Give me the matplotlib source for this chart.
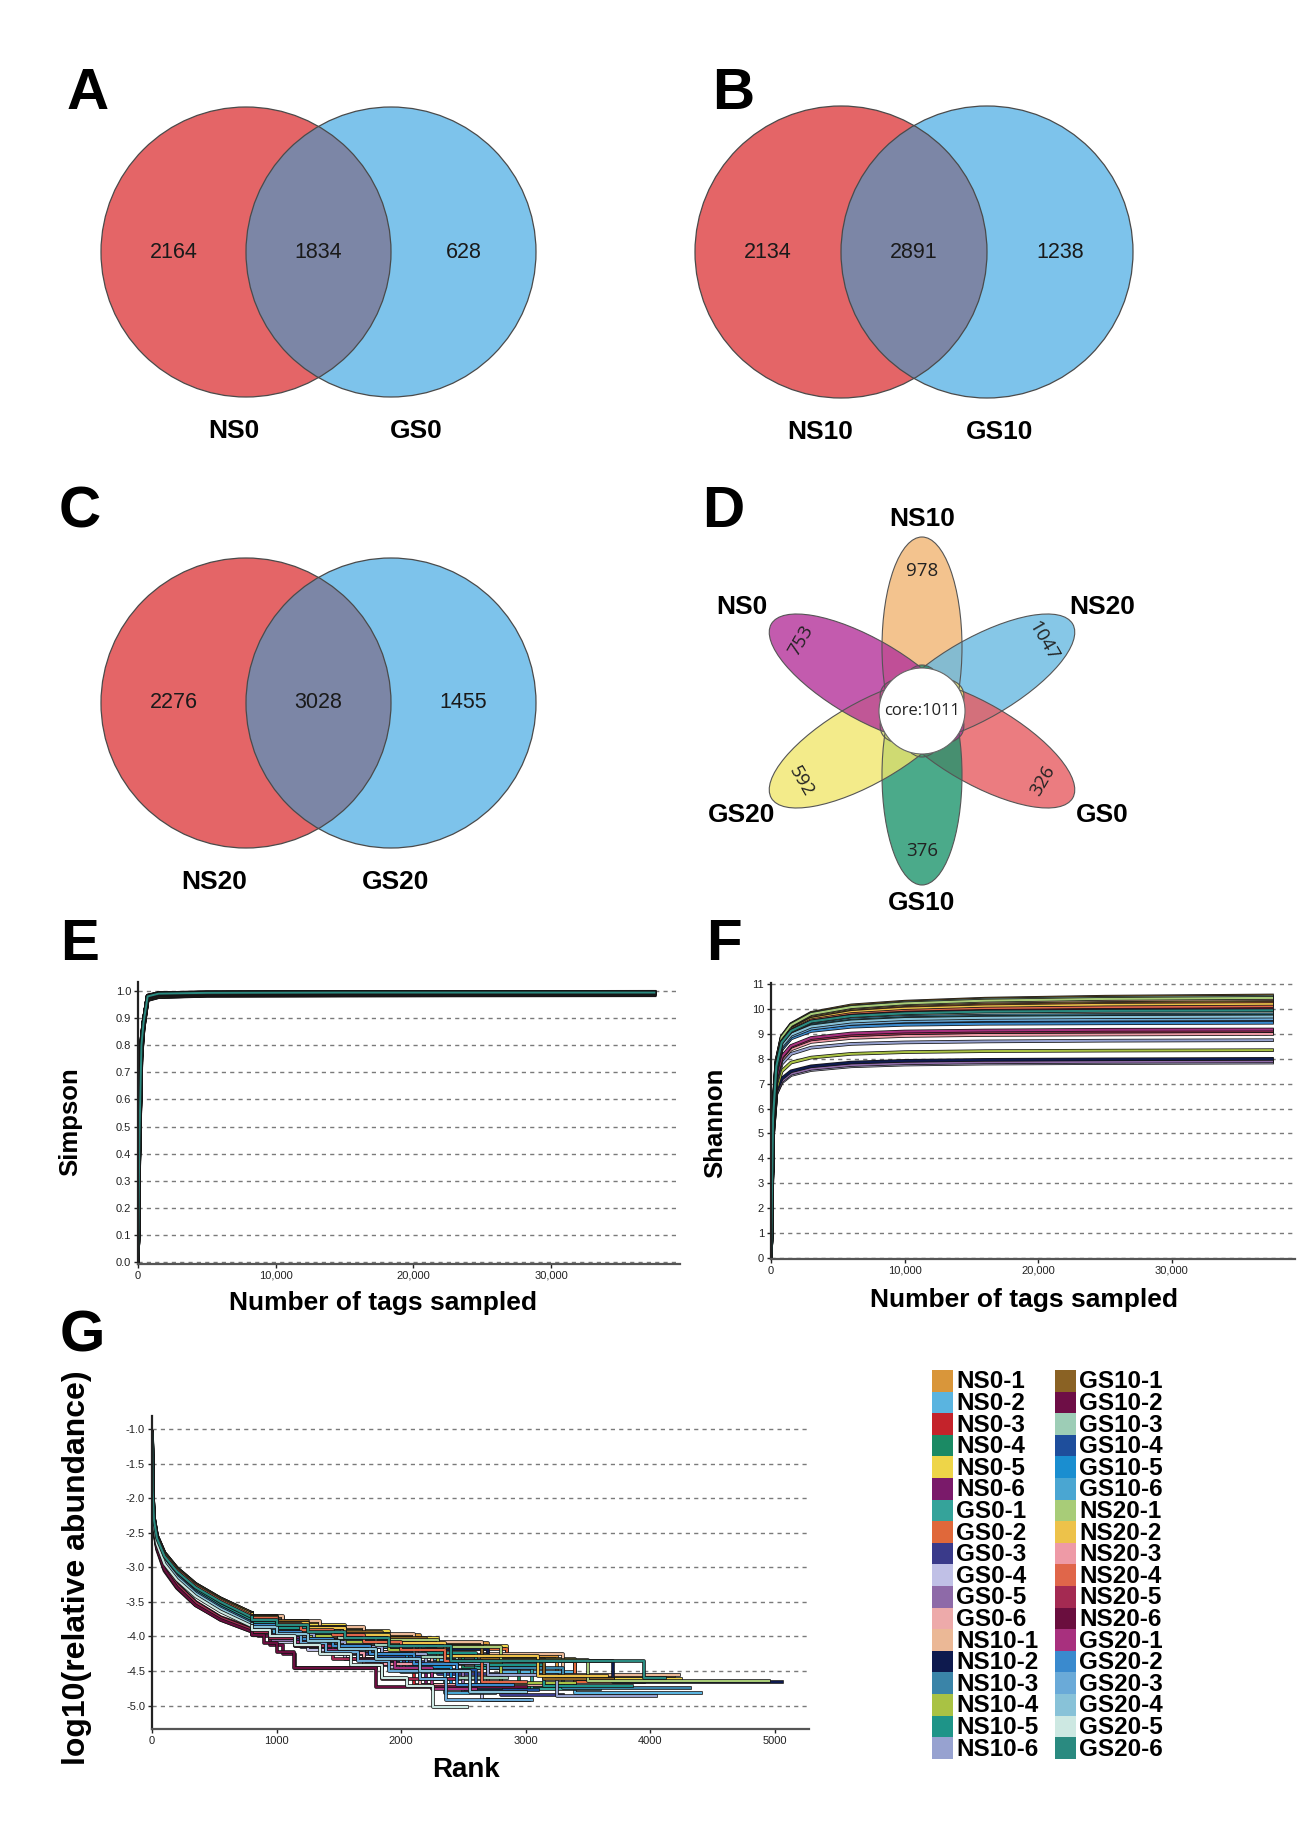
import numpy as np
import matplotlib
matplotlib.use("Agg")
import matplotlib.pyplot as plt
import matplotlib.patheffects as pe
from matplotlib.patches import Circle, Ellipse, Rectangle
from matplotlib.ticker import FuncFormatter, MultipleLocator

plt.rcParams['axes.unicode_minus'] = False

W, H = 1301, 1825

# ---------------- data ----------------
# A-C: two-set Venn diagrams (left only, shared, right only)
venn_labels = [("NS0", "GS0"), ("NS10", "GS10"), ("NS20", "GS20")]
venn_counts = [(2164, 1834, 628), (2134, 2891, 1238), (2276, 3028, 1455)]

# D: flower diagram
flower_groups = ["NS10", "NS20", "GS0", "GS10", "GS20", "NS0"]
flower_unique = [978, 1047, 326, 376, 592, 753]
flower_core = 1011
flower_colors = ["#F0B572", "#68BAE2", "#E75B60", "#1E956D", "#F1E76D", "#B4329A"]

# samples (legend order)
samples = ["NS0-1", "NS0-2", "NS0-3", "NS0-4", "NS0-5", "NS0-6",
           "GS0-1", "GS0-2", "GS0-3", "GS0-4", "GS0-5", "GS0-6",
           "NS10-1", "NS10-2", "NS10-3", "NS10-4", "NS10-5", "NS10-6",
           "GS10-1", "GS10-2", "GS10-3", "GS10-4", "GS10-5", "GS10-6",
           "NS20-1", "NS20-2", "NS20-3", "NS20-4", "NS20-5", "NS20-6",
           "GS20-1", "GS20-2", "GS20-3", "GS20-4", "GS20-5", "GS20-6"]
sample_colors = ["#D9963A", "#5AB4E0", "#C4232B", "#1B8A64", "#EED548", "#7A1A6A",
                 "#35A39A", "#E0683A", "#3A3A8A", "#C0C0E6", "#8E6AA8", "#EDAAAA",
                 "#EBB896", "#0E1A4E", "#3A84A8", "#A9C244", "#1E9488", "#97A2D0",
                 "#8A6224", "#6E0E46", "#9DCDB6", "#1E4E9C", "#1A8ED0", "#4AA6D2",
                 "#A8CC78", "#EDC24A", "#EE9AA6", "#E0664A", "#A42A52", "#6A0E3E",
                 "#A8307E", "#3A8ACE", "#6AAAD8", "#88C2D8", "#CDE8E2", "#2A8A80"]

# E: Simpson rarefaction
depths_simpson = [0, 100, 250, 400, 700, 1500, 5000, 15000, 37500]
simpson = [
    [0, 0.46, 0.81, 0.885, 0.982, 0.991, 0.994, 0.995, 0.995],
    [0, 0.45, 0.80, 0.880, 0.978, 0.988, 0.991, 0.992, 0.992],
    [0, 0.43, 0.78, 0.870, 0.974, 0.984, 0.988, 0.989, 0.989],
    [0, 0.45, 0.80, 0.880, 0.979, 0.988, 0.991, 0.992, 0.993],
    [0, 0.46, 0.81, 0.884, 0.981, 0.990, 0.993, 0.994, 0.995],
    [0, 0.43, 0.78, 0.868, 0.973, 0.983, 0.987, 0.988, 0.988],
    [0, 0.45, 0.80, 0.881, 0.979, 0.989, 0.992, 0.993, 0.993],
    [0, 0.46, 0.81, 0.884, 0.981, 0.990, 0.993, 0.994, 0.994],
    [0, 0.41, 0.76, 0.860, 0.968, 0.978, 0.983, 0.984, 0.985],
    [0, 0.40, 0.75, 0.858, 0.966, 0.977, 0.982, 0.983, 0.984],
    [0, 0.41, 0.76, 0.859, 0.967, 0.978, 0.983, 0.984, 0.985],
    [0, 0.43, 0.78, 0.869, 0.974, 0.984, 0.988, 0.989, 0.989],
    [0, 0.46, 0.82, 0.886, 0.982, 0.991, 0.994, 0.995, 0.996],
    [0, 0.41, 0.76, 0.861, 0.969, 0.979, 0.984, 0.985, 0.986],
    [0, 0.44, 0.79, 0.878, 0.977, 0.987, 0.990, 0.991, 0.991],
    [0, 0.42, 0.77, 0.864, 0.970, 0.980, 0.985, 0.986, 0.987],
    [0, 0.45, 0.80, 0.882, 0.980, 0.989, 0.992, 0.993, 0.993],
    [0, 0.42, 0.77, 0.866, 0.972, 0.982, 0.986, 0.987, 0.988],
    [0, 0.47, 0.82, 0.888, 0.983, 0.992, 0.995, 0.996, 0.997],
    [0, 0.46, 0.81, 0.883, 0.981, 0.990, 0.993, 0.994, 0.994],
    [0, 0.47, 0.82, 0.887, 0.983, 0.992, 0.995, 0.996, 0.996],
    [0, 0.44, 0.79, 0.879, 0.978, 0.988, 0.991, 0.992, 0.992],
    [0, 0.45, 0.80, 0.880, 0.979, 0.988, 0.991, 0.992, 0.993],
    [0, 0.45, 0.80, 0.882, 0.980, 0.989, 0.992, 0.993, 0.994],
    [0, 0.47, 0.82, 0.886, 0.982, 0.991, 0.994, 0.995, 0.996],
    [0, 0.46, 0.81, 0.884, 0.981, 0.990, 0.993, 0.994, 0.995],
    [0, 0.43, 0.78, 0.868, 0.973, 0.983, 0.987, 0.988, 0.988],
    [0, 0.46, 0.81, 0.883, 0.981, 0.990, 0.993, 0.994, 0.994],
    [0, 0.43, 0.78, 0.869, 0.974, 0.984, 0.988, 0.989, 0.989],
    [0, 0.45, 0.81, 0.882, 0.980, 0.990, 0.993, 0.994, 0.994],
    [0, 0.44, 0.78, 0.871, 0.975, 0.985, 0.989, 0.990, 0.990],
    [0, 0.44, 0.79, 0.878, 0.977, 0.987, 0.990, 0.991, 0.991],
    [0, 0.45, 0.80, 0.880, 0.978, 0.988, 0.991, 0.992, 0.992],
    [0, 0.45, 0.80, 0.881, 0.979, 0.989, 0.992, 0.993, 0.993],
    [0, 0.45, 0.80, 0.882, 0.980, 0.989, 0.992, 0.993, 0.994],
    [0, 0.46, 0.80, 0.882, 0.980, 0.990, 0.993, 0.994, 0.994],
]

# F: Shannon rarefaction
depths = [0, 150, 400, 800, 1500, 3000, 6000, 10000, 16000, 25000, 37500]
shannon = [
    [0, 5.70, 7.80, 8.80, 9.30, 9.72, 10.00, 10.15, 10.25, 10.31, 10.35],
    [0, 5.50, 7.50, 8.45, 8.90, 9.22, 9.40, 9.50, 9.55, 9.58, 9.60],
    [0, 5.30, 7.20, 8.05, 8.50, 8.80, 8.97, 9.05, 9.10, 9.13, 9.15],
    [0, 5.50, 7.60, 8.50, 8.95, 9.30, 9.50, 9.60, 9.65, 9.68, 9.70],
    [0, 5.70, 7.80, 8.75, 9.25, 9.68, 9.95, 10.10, 10.20, 10.26, 10.30],
    [0, 5.30, 7.15, 8.00, 8.42, 8.72, 8.88, 8.96, 9.01, 9.03, 9.05],
    [0, 5.55, 7.60, 8.55, 9.00, 9.35, 9.55, 9.65, 9.70, 9.73, 9.75],
    [0, 5.65, 7.75, 8.72, 9.20, 9.62, 9.90, 10.05, 10.15, 10.21, 10.25],
    [0, 4.95, 6.65, 7.15, 7.45, 7.65, 7.80, 7.87, 7.91, 7.93, 7.95],
    [0, 4.90, 6.60, 7.05, 7.35, 7.55, 7.70, 7.77, 7.81, 7.83, 7.85],
    [0, 4.90, 6.60, 7.10, 7.40, 7.60, 7.75, 7.82, 7.86, 7.88, 7.90],
    [0, 5.30, 7.20, 8.02, 8.46, 8.76, 8.93, 9.01, 9.06, 9.08, 9.10],
    [0, 5.75, 7.85, 8.85, 9.35, 9.77, 10.05, 10.20, 10.30, 10.36, 10.40],
    [0, 5.00, 6.70, 7.20, 7.50, 7.70, 7.85, 7.92, 7.96, 7.98, 8.00],
    [0, 5.40, 7.50, 8.40, 8.85, 9.15, 9.33, 9.41, 9.46, 9.48, 9.50],
    [0, 5.10, 6.80, 7.50, 7.85, 8.05, 8.20, 8.27, 8.31, 8.33, 8.35],
    [0, 5.55, 7.65, 8.60, 9.05, 9.40, 9.60, 9.70, 9.75, 9.78, 9.80],
    [0, 5.20, 7.00, 7.80, 8.20, 8.45, 8.60, 8.66, 8.70, 8.73, 8.75],
    [0, 5.80, 7.90, 8.90, 9.40, 9.85, 10.15, 10.30, 10.42, 10.50, 10.55],
    [0, 5.60, 7.70, 8.70, 9.18, 9.58, 9.85, 9.98, 10.07, 10.12, 10.15],
    [0, 5.80, 7.90, 8.88, 9.38, 9.82, 10.10, 10.26, 10.38, 10.45, 10.50],
    [0, 5.45, 7.50, 8.42, 8.88, 9.20, 9.38, 9.46, 9.51, 9.53, 9.55],
    [0, 5.50, 7.55, 8.48, 8.92, 9.26, 9.46, 9.56, 9.61, 9.63, 9.65],
    [0, 5.60, 7.65, 8.62, 9.08, 9.45, 9.65, 9.75, 9.80, 9.83, 9.85],
    [0, 5.75, 7.85, 8.86, 9.36, 9.80, 10.08, 10.23, 10.34, 10.41, 10.45],
    [0, 5.65, 7.75, 8.70, 9.18, 9.60, 9.88, 10.02, 10.11, 10.17, 10.20],
    [0, 5.25, 7.10, 7.95, 8.38, 8.68, 8.84, 8.92, 8.96, 8.98, 9.00],
    [0, 5.60, 7.70, 8.68, 9.15, 9.55, 9.80, 9.93, 10.02, 10.07, 10.10],
    [0, 5.30, 7.20, 8.03, 8.48, 8.78, 8.95, 9.03, 9.08, 9.10, 9.12],
    [0, 5.60, 7.70, 8.65, 9.12, 9.50, 9.74, 9.86, 9.93, 9.97, 10.00],
    [0, 5.30, 7.25, 8.08, 8.52, 8.84, 9.02, 9.10, 9.14, 9.17, 9.18],
    [0, 5.40, 7.45, 8.38, 8.82, 9.12, 9.29, 9.37, 9.41, 9.43, 9.45],
    [0, 5.50, 7.55, 8.46, 8.90, 9.22, 9.41, 9.51, 9.56, 9.58, 9.60],
    [0, 5.50, 7.60, 8.52, 8.97, 9.30, 9.50, 9.60, 9.65, 9.68, 9.70],
    [0, 5.60, 7.70, 8.65, 9.10, 9.48, 9.70, 9.80, 9.85, 9.88, 9.90],
    [0, 5.60, 7.70, 8.66, 9.12, 9.50, 9.72, 9.83, 9.90, 9.93, 9.95],
]

# G: rank-abundance, smooth head then stepped tail
rank_head = [1, 5, 15, 40, 100, 200, 350, 550, 800]
abund_head = [
    [-1.05, -1.85, -2.28, -2.55, -2.80, -3.02, -3.25, -3.46, -3.68],
    [-1.08, -1.92, -2.33, -2.60, -2.88, -3.10, -3.34, -3.56, -3.78],
    [-1.12, -2.00, -2.40, -2.68, -2.98, -3.24, -3.50, -3.72, -3.88],
    [-1.08, -1.90, -2.32, -2.59, -2.87, -3.09, -3.33, -3.55, -3.76],
    [-1.04, -1.84, -2.27, -2.54, -2.79, -3.01, -3.24, -3.45, -3.66],
    [-1.13, -2.01, -2.41, -2.69, -3.00, -3.26, -3.52, -3.74, -3.90],
    [-1.07, -1.91, -2.33, -2.60, -2.87, -3.09, -3.33, -3.55, -3.76],
    [-1.05, -1.86, -2.29, -2.56, -2.81, -3.03, -3.26, -3.47, -3.68],
    [-1.12, -2.02, -2.42, -2.70, -3.00, -3.26, -3.52, -3.74, -3.91],
    [-1.14, -2.03, -2.43, -2.71, -3.02, -3.28, -3.54, -3.76, -3.93],
    [-1.12, -2.01, -2.41, -2.69, -3.00, -3.26, -3.52, -3.74, -3.92],
    [-1.09, -1.94, -2.35, -2.62, -2.90, -3.13, -3.37, -3.59, -3.80],
    [-1.04, -1.84, -2.27, -2.54, -2.79, -3.01, -3.24, -3.45, -3.66],
    [-1.08, -1.93, -2.34, -2.61, -2.89, -3.11, -3.35, -3.57, -3.78],
    [-1.08, -1.92, -2.33, -2.60, -2.88, -3.10, -3.34, -3.56, -3.78],
    [-1.09, -1.93, -2.34, -2.62, -2.90, -3.12, -3.36, -3.58, -3.80],
    [-1.07, -1.91, -2.32, -2.60, -2.87, -3.09, -3.33, -3.55, -3.76],
    [-1.10, -1.95, -2.36, -2.63, -2.91, -3.14, -3.38, -3.60, -3.82],
    [-1.04, -1.84, -2.27, -2.54, -2.79, -3.01, -3.24, -3.45, -3.66],
    [-1.15, -2.05, -2.45, -2.74, -3.05, -3.30, -3.55, -3.75, -3.90],
    [-1.06, -1.87, -2.30, -2.57, -2.82, -3.05, -3.28, -3.49, -3.70],
    [-1.10, -1.95, -2.36, -2.63, -2.91, -3.14, -3.38, -3.60, -3.82],
    [-1.09, -1.93, -2.34, -2.62, -2.90, -3.12, -3.36, -3.58, -3.80],
    [-1.10, -1.95, -2.36, -2.63, -2.91, -3.14, -3.38, -3.60, -3.82],
    [-1.05, -1.85, -2.28, -2.55, -2.80, -3.02, -3.25, -3.46, -3.68],
    [-1.05, -1.86, -2.29, -2.56, -2.81, -3.03, -3.26, -3.47, -3.68],
    [-1.12, -2.00, -2.40, -2.68, -2.99, -3.25, -3.51, -3.73, -3.90],
    [-1.06, -1.87, -2.30, -2.57, -2.82, -3.04, -3.27, -3.48, -3.70],
    [-1.12, -2.00, -2.40, -2.68, -2.99, -3.25, -3.51, -3.73, -3.90],
    [-1.14, -2.04, -2.44, -2.72, -3.03, -3.29, -3.55, -3.76, -3.93],
    [-1.10, -1.96, -2.37, -2.65, -2.93, -3.16, -3.40, -3.62, -3.83],
    [-1.09, -1.93, -2.34, -2.62, -2.90, -3.12, -3.36, -3.58, -3.80],
    [-1.10, -1.96, -2.37, -2.65, -2.93, -3.16, -3.40, -3.62, -3.83],
    [-1.10, -1.95, -2.36, -2.63, -2.91, -3.14, -3.38, -3.60, -3.82],
    [-1.11, -1.98, -2.39, -2.66, -2.95, -3.18, -3.42, -3.64, -3.85],
    [-1.06, -1.88, -2.31, -2.58, -2.84, -3.06, -3.29, -3.50, -3.72],
]
rank_tail = [
    [800, 1050, 1350, 1700, 2150, 2700, 3250, 4190],
    [800, 1000, 1300, 1550, 1850, 2250, 2800, 3400, 4410],
    [800, 950, 1150, 1400, 1700, 2100, 2700],
    [800, 1000, 1200, 1450, 1750, 2100, 2500, 2950, 3500],
    [800, 1000, 1250, 1550, 1900, 2300, 2850, 3400, 4250],
    [800, 980, 1200, 1450, 1800, 2200, 2800],
    [800, 1000, 1250, 1500, 1800, 2150, 2600, 3050, 3600],
    [800, 1000, 1250, 1550, 1900, 2300, 2850, 3400, 3950],
    [800, 1000, 1200, 1500, 1850, 2300, 2800, 3300],
    [800, 1000, 1250, 1550, 1900, 2250, 2650, 3030],
    [800, 950, 1150, 1400, 1700, 2050, 2500, 2950],
    [800, 1000, 1250, 1500, 1850, 2250, 2700, 3200],
    [800, 1050, 1350, 1700, 2100, 2650, 3300, 4230],
    [800, 1000, 1300, 1650, 2100, 2700, 3700, 5058],
    [800, 1000, 1250, 1550, 1850, 2200, 2700, 3300, 4316],
    [800, 1000, 1250, 1550, 1900, 2300, 2800, 3400],
    [800, 1000, 1250, 1500, 1800, 2150, 2600, 3150, 3850],
    [800, 1000, 1300, 1550, 1850, 2200, 2700, 3250, 4045],
    [800, 1000, 1250, 1550, 1850, 2200, 2650, 3150, 3700],
    [800, 850, 950, 1050, 1150, 1800],
    [800, 1000, 1250, 1500, 1800, 2100, 2450, 2850],
    [800, 1000, 1250, 1500, 1800, 2150, 2600, 3100],
    [800, 1000, 1200, 1450, 1750, 2050, 2400, 2800],
    [800, 980, 1200, 1450, 1700, 2000, 2350, 2750],
    [800, 1000, 1250, 1550, 1900, 2300, 2800, 3500, 4955],
    [800, 1000, 1250, 1550, 1900, 2350, 3100, 3650],
    [800, 950, 1150, 1400, 1700, 2150, 2650],
    [800, 1000, 1200, 1450, 1700, 2000, 2350, 2650, 3000],
    [800, 950, 1150, 1450, 1850, 2450],
    [800, 900, 1000, 1140, 1800, 3000],
    [800, 950, 1150, 1400, 1650, 1950, 2250, 2600],
    [800, 1000, 1200, 1450, 1750, 2100, 2450, 2900],
    [800, 1000, 1200, 1400, 1650, 1900, 2150, 2360, 3050],
    [800, 1000, 1250, 1500, 1800, 2150, 2550, 3000],
    [800, 950, 1150, 1350, 1600, 1850, 2050, 2255, 2530],
    [800, 1000, 1250, 1550, 1900, 2400, 3950, 4120],
]
abund_tail = [
    [-3.72, -3.80, -3.88, -3.98, -4.10, -4.28, -4.58],
    [-3.82, -3.92, -4.04, -4.12, -4.22, -4.34, -4.52, -4.82],
    [-3.92, -4.00, -4.10, -4.22, -4.40, -4.70],
    [-3.80, -3.90, -3.97, -4.05, -4.15, -4.27, -4.45, -4.75],
    [-3.70, -3.78, -3.84, -3.92, -4.02, -4.14, -4.32, -4.62],
    [-3.95, -4.02, -4.12, -4.24, -4.42, -4.72],
    [-3.80, -3.89, -3.98, -4.06, -4.16, -4.28, -4.46, -4.76],
    [-3.72, -3.80, -3.88, -3.96, -4.06, -4.18, -4.36, -4.66],
    [-3.95, -4.05, -4.15, -4.25, -4.37, -4.55, -4.85],
    [-3.98, -4.08, -4.20, -4.32, -4.44, -4.62, -4.92],
    [-3.96, -4.05, -4.14, -4.22, -4.32, -4.50, -4.80],
    [-3.85, -3.93, -4.01, -4.10, -4.22, -4.40, -4.70],
    [-3.70, -3.78, -3.86, -3.96, -4.08, -4.26, -4.56],
    [-3.82, -3.90, -3.98, -4.06, -4.18, -4.36, -4.66],
    [-3.82, -3.90, -3.98, -4.06, -4.15, -4.27, -4.45, -4.75],
    [-3.84, -3.92, -4.00, -4.08, -4.20, -4.38, -4.68],
    [-3.80, -3.88, -3.95, -4.02, -4.12, -4.24, -4.42, -4.72],
    [-3.86, -3.96, -4.08, -4.16, -4.26, -4.38, -4.56, -4.86],
    [-3.70, -3.78, -3.86, -3.94, -4.02, -4.14, -4.32, -4.62],
    [-3.92, -4.00, -4.12, -4.25, -4.45],
    [-3.75, -3.83, -3.92, -4.02, -4.12, -4.30, -4.60],
    [-3.86, -3.96, -4.06, -4.18, -4.30, -4.48, -4.78],
    [-3.84, -3.94, -4.04, -4.14, -4.26, -4.44, -4.74],
    [-3.86, -3.96, -4.06, -4.20, -4.34, -4.52, -4.82],
    [-3.72, -3.80, -3.88, -3.96, -4.05, -4.16, -4.34, -4.64],
    [-3.72, -3.80, -3.88, -3.98, -4.10, -4.28, -4.58],
    [-3.94, -4.02, -4.12, -4.24, -4.40, -4.70],
    [-3.74, -3.82, -3.90, -3.98, -4.08, -4.20, -4.36, -4.66],
    [-3.94, -4.02, -4.14, -4.32, -4.62],
    [-3.98, -4.10, -4.22, -4.45, -4.73],
    [-3.88, -3.98, -4.08, -4.20, -4.34, -4.46, -4.76],
    [-3.84, -3.94, -4.04, -4.14, -4.26, -4.40, -4.70],
    [-3.88, -3.98, -4.10, -4.22, -4.36, -4.50, -4.62, -4.92],
    [-3.86, -3.96, -4.06, -4.18, -4.32, -4.50, -4.80],
    [-3.90, -4.00, -4.12, -4.26, -4.42, -4.60, -4.72, -5.02],
    [-3.76, -3.84, -3.93, -4.02, -4.14, -4.36, -4.60],
]

# ---------------- styling ----------------
VENN_LEFT = "#E46567"
VENN_RIGHT = "#7DC3EB"
VENN_MID = "#7C86A6"
EDGE = "#4a4a4a"
SANS = ["Liberation Sans", "DejaVu Sans"]
OUTLINE = [pe.Stroke(linewidth=2.6, foreground="#151515"), pe.Normal()]


def px_axes(fig, left, top, right, bottom):
    return fig.add_axes([left / W, 1 - bottom / H, (right - left) / W, (bottom - top) / H])


def fig_text(fig, x, y, s, **kw):
    fig.text(x / W, 1 - y / H, s, **kw)


def venn2(ax, cx, cy, r, counts, labels, label_x):
    left = Circle((cx - r / 2, cy), r, fc=VENN_LEFT, ec="none")
    right = Circle((cx + r / 2, cy), r, fc=VENN_RIGHT, ec="none")
    ax.add_patch(left)
    ax.add_patch(right)
    mid = Circle((cx + r / 2, cy), r, fc=VENN_MID, ec="none")
    ax.add_patch(mid)
    mid.set_clip_path(left)
    for x0 in (cx - r / 2, cx + r / 2):
        ax.add_patch(Circle((x0, cy), r, fc="none", ec=EDGE, lw=0.9))
    for x0, n in zip((cx - r, cx, cx + r), counts):
        ax.text(x0, cy, str(n), ha="center", va="center", fontsize=15.5,
                family=SANS, color="#1a1a1a")
    for x0, lab in zip(label_x, labels):
        ax.text(x0, cy + r + 34, lab, ha="center", va="center", fontsize=19,
                fontweight="bold", family=SANS)


def style_axes(ax):
    for s in ("top", "right"):
        ax.spines[s].set_visible(False)
    ax.spines["left"].set_linewidth(1.6)
    ax.spines["bottom"].set_linewidth(1.6)
    ax.spines["left"].set_color("#222222")
    ax.spines["bottom"].set_color("#555555")
    ax.tick_params(length=3, width=1, labelsize=8, pad=2, colors="#222222")
    for lab in ax.get_xticklabels() + ax.get_yticklabels():
        lab.set_family(SANS)
    ax.yaxis.grid(True, ls=(0, (3, 3)), color="#7a7a7a", lw=1.0)
    ax.set_axisbelow(True)
    ax.set_facecolor("none")


fig = plt.figure(figsize=(W / 100, H / 100), dpi=100)
fig.patch.set_facecolor("white")

ov = fig.add_axes([0, 0, 1, 1])
ov.set_xlim(0, W)
ov.set_ylim(H, 0)
ov.axis("off")

# panel letters
for letter, (lx, ly) in zip("ABCDEFG", [(88, 94), (733, 94), (80, 512), (723, 512),
                                         (80, 945), (724, 945), (82, 1336)]):
    ov.text(lx, ly, letter, ha="center", va="center", fontsize=42,
            fontweight="bold", family=SANS)

# A-C venn diagrams
venn2(ov, 318.5, 252, 145, venn_counts[0], venn_labels[0], (234, 416))
venn2(ov, 914, 252, 146, venn_counts[1], venn_labels[1], (820, 1000))
venn2(ov, 318.5, 703, 145, venn_counts[2], venn_labels[2], (214, 396))

# D flower
fx, fy = 922, 711
petal_a, petal_b, petal_off = 110, 40, 64
angles = [90, 30, -30, -90, 210, 150]
for name, n, col, ang in zip(flower_groups, flower_unique, flower_colors, angles):
    th = np.deg2rad(ang)
    ex, ey = fx + petal_off * np.cos(th), fy - petal_off * np.sin(th)
    ov.add_patch(Ellipse((ex, ey), 2 * petal_a, 2 * petal_b, angle=-ang,
                         fc=col, ec="none", alpha=0.8))
for ang in angles:
    th = np.deg2rad(ang)
    ex, ey = fx + petal_off * np.cos(th), fy - petal_off * np.sin(th)
    ov.add_patch(Ellipse((ex, ey), 2 * petal_a, 2 * petal_b, angle=-ang,
                         fc="none", ec="#555555", lw=0.8))
for name, n, ang in zip(flower_groups, flower_unique, angles):
    th = np.deg2rad(ang)
    rot = ang - 90
    if rot <= -90:
        rot += 180
    if rot > 90:
        rot -= 180
    ov.text(fx + 140 * np.cos(th), fy - 140 * np.sin(th), str(n), rotation=rot,
            ha="center", va="center", fontsize=13.5, family=["Open Sans", "DejaVu Sans"],
            color="#222222", rotation_mode="anchor")
    rl = 192 if ang in (90, -90) else 208
    ov.text(fx + rl * np.cos(th), fy - rl * np.sin(th), name, ha="center", va="center",
            fontsize=19, fontweight="bold", family=SANS)
ov.add_patch(Circle((fx, fy), 43, fc="white", ec="#666666", lw=0.8))
ov.text(fx, fy, f"core:{flower_core}", ha="center", va="center", fontsize=12,
        family=["Open Sans", "DejaVu Sans"], color="#222222")

# legend
row_h = 21.6
for i, (name, col) in enumerate(zip(samples, sample_colors)):
    c, r = divmod(i, 18)
    x0 = 932 + c * 123
    y0 = 1370 + r * row_h
    ov.add_patch(Rectangle((x0, y0), 21, row_h, fc=col, ec="none"))
    ov.text(x0 + 24, y0 + row_h / 2 + 1, name, ha="left", va="center", fontsize=17.5,
            fontweight="bold", family=SANS)

# E Simpson
axE = px_axes(fig, 138, 982, 680, 1264)
for col, row in zip(sample_colors, simpson):
    axE.plot(depths_simpson, row, color=col, lw=1.4, path_effects=OUTLINE)
axE.set_xlim(0, 39360)
axE.set_ylim(-0.007, 1.033)
axE.yaxis.set_major_locator(MultipleLocator(0.1))
axE.yaxis.set_major_formatter(FuncFormatter(lambda v, p: f"{v:.1f}"))
axE.xaxis.set_major_locator(MultipleLocator(10000))
axE.xaxis.set_major_formatter(FuncFormatter(lambda v, p: f"{int(v):,}"))
style_axes(axE)

# F Shannon
axF = px_axes(fig, 771, 983, 1295, 1259)
for col, row in zip(sample_colors, shannon):
    axF.plot(depths, row, color=col, lw=1.5, path_effects=OUTLINE)
axF.set_xlim(0, 39220)
axF.set_ylim(-0.05, 11.05)
axF.yaxis.set_major_locator(MultipleLocator(1))
axF.xaxis.set_major_locator(MultipleLocator(10000))
axF.xaxis.set_major_formatter(FuncFormatter(lambda v, p: f"{int(v):,}"))
style_axes(axF)

# G rank abundance
axG = px_axes(fig, 152, 1416, 809, 1729)
for col, hv, tr, tv in zip(sample_colors, abund_head, rank_tail, abund_tail):
    axG.plot(rank_head, hv, color=col, lw=1.5, path_effects=OUTLINE)
    xs = [rank_head[-1]] + tr
    ys = [hv[-1]] + tv + [tv[-1]]
    axG.step(xs, ys, where="post", color=col, lw=1.5, path_effects=OUTLINE)
axG.set_xlim(0, 5275)
axG.set_ylim(-5.34, -0.81)
axG.yaxis.set_major_locator(MultipleLocator(0.5))
axG.yaxis.set_major_formatter(FuncFormatter(lambda v, p: f"{v:.1f}"))
axG.xaxis.set_major_locator(MultipleLocator(1000))
style_axes(axG)

# axis titles
fig_text(fig, 70, 1122, "Simpson", rotation=90, ha="center", va="center",
         fontsize=18.5, fontweight="bold", family=SANS)
fig_text(fig, 383, 1303, "Number of tags sampled", ha="center", va="center",
         fontsize=19, fontweight="bold", family=SANS)
fig_text(fig, 715, 1123, "Shannon", rotation=90, ha="center", va="center",
         fontsize=18.5, fontweight="bold", family=SANS)
fig_text(fig, 1024, 1300, "Number of tags sampled", ha="center", va="center",
         fontsize=19, fontweight="bold", family=SANS)
fig_text(fig, 77, 1568, "log10(relative abundance)", rotation=90, ha="center",
         va="center", fontsize=23, fontweight="bold", family=SANS)
fig_text(fig, 466, 1770, "Rank", ha="center", va="center", fontsize=20,
         fontweight="bold", family=SANS)

fig.savefig("out.png", dpi=100, facecolor="white")
